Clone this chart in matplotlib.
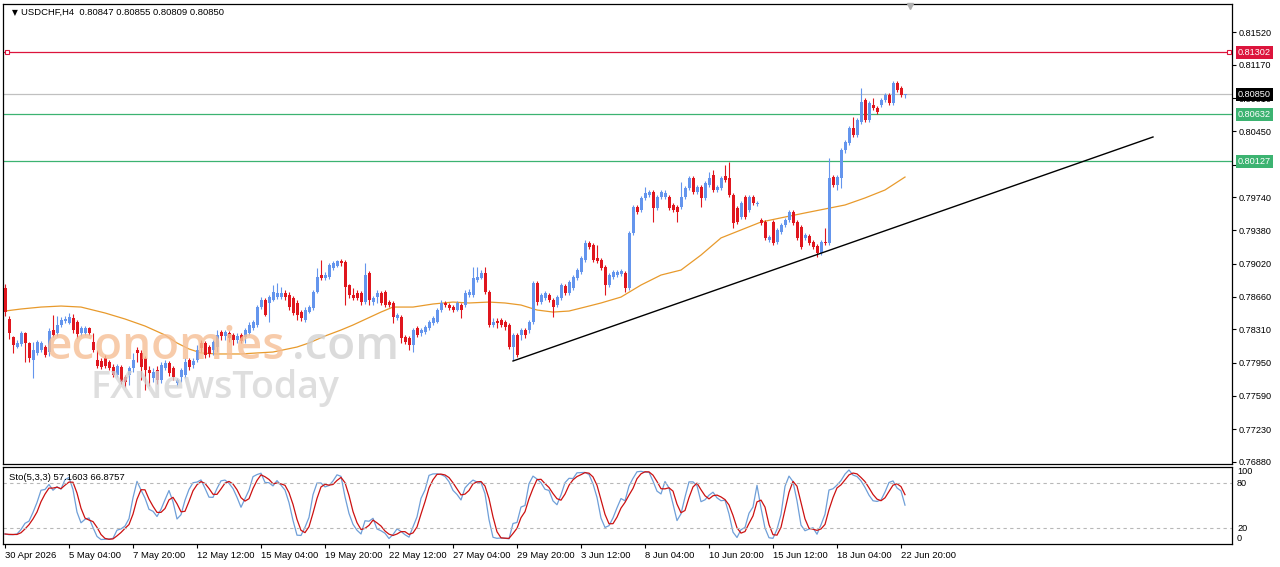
import numpy as np
import pandas as pd
import matplotlib
matplotlib.use('Agg')
import matplotlib.pyplot as plt
from matplotlib.transforms import blended_transform_factory

plt.rcParams['font.family'] = ['Liberation Sans', 'DejaVu Sans']

#### data (USDCHF H4)
header = 'USDCHF,H4  0.80847 0.80855 0.80809 0.80850'
sto_header = 'Sto(5,3,3) 57.1603 66.8757'

opens = [
    .78757, .78422, .78227, .78119, .78152, .78271, .78163, .77979, .78055, .78087,
    .78119, .78065, .78303, .78271, .78357, .78400, .78379, .78433, .78389, .78271,
    .78271, .78325, .78173, .77979, .77968, .78001, .77957, .77903, .77817, .77903,
    .77795, .77817, .77893, .78087, .78055, .78001, .77871, .77785, .77871, .77763,
    .77893, .77947, .77893, .77731, .77795, .77817, .77979, .77925, .77979, .78163,
    .78163, .78119, .78087, .78119, .78281, .78238, .78271, .78249, .78195, .78249,
    .78227, .78271, .78325, .78357, .78551, .78627, .78595, .78627, .78659, .78659,
    .78703, .78681, .78649, .78595, .78497, .78411, .78497, .78541, .78713, .78897,
    .78865, .78875, .78973, .78994, .79048, .79037, .78789, .78681, .78703, .78703,
    .78605, .78919, .78605, .78659, .78703, .78713, .78605, .78595, .78433, .78443,
    .78227, .78217, .78141, .78325, .78271, .78281, .78325, .78379, .78389, .78519,
    .78595, .78573, .78551, .78519, .78573, .78573, .78681, .78681, .78843, .78865,
    .78919, .78713, .78357, .78400, .78411, .78389, .78357, .78119, .78249, .78249,
    .78303, .78303, .78389, .78811, .78605, .78649, .78681, .78627, .78573, .78649,
    .78778, .78703, .78757, .78865, .78929, .79059, .79244, .79222, .79081, .79059,
    .78983, .78789, .78875, .78897, .78908, .78919, .78757, .79352, .79632, .79600,
    .79730, .79762, .79794, .79622, .79740, .79740, .79740, .79654, .79632, .79632,
    .79740, .79838, .79946, .79794, .79848, .79730, .79870, .79978, .79816, .79838,
    .79967, .79946, .79762, .79622, .79524, .79740, .79600, .79740, .79665, .79492,
    .79470, .79276, .79470, .79254, .79362, .79438, .79492, .79578, .79470, .79416,
    .79298, .79319, .79254, .79211, .79135, .79254, .79244, .79956, .79870, .79946,
    .80248, .80324, .80486, .80410, .80550, .80788, .80572, .80734, .80702, .80734,
    .80788, .80842, .80756, .80973, .80919, .80847,
]
highs = [
    .78800, .78454, .78238, .78195, .78292, .78281, .78173, .78173, .78195, .78184,
    .78141, .78325, .78465, .78454, .78443, .78454, .78487, .78476, .78411, .78346,
    .78346, .78335, .78271, .78087, .78001, .78033, .77979, .77936, .77936, .77925,
    .77817, .77914, .78055, .78119, .78087, .78022, .77914, .77893, .77914, .77957,
    .77979, .77968, .77914, .77785, .77893, .78001, .78001, .78001, .78141, .78195,
    .78184, .78141, .78195, .78303, .78303, .78303, .78292, .78271, .78271, .78271,
    .78325, .78389, .78411, .78573, .78659, .78649, .78681, .78789, .78811, .78767,
    .78735, .78713, .78670, .78627, .78519, .78551, .78573, .78735, .78973, .79059,
    .78929, .79027, .79048, .79059, .79070, .79059, .78800, .78757, .78735, .78724,
    .79027, .78940, .78670, .78735, .78724, .78735, .78627, .78616, .78487, .78465,
    .78249, .78238, .78325, .78346, .78325, .78357, .78411, .78454, .78541, .78627,
    .78616, .78595, .78573, .78616, .78595, .78735, .78746, .78983, .78983, .78951,
    .78983, .78735, .78433, .78433, .78433, .78411, .78379, .78271, .78271, .78325,
    .78325, .78411, .78832, .78832, .78703, .78724, .78703, .78649, .78681, .78811,
    .78800, .78843, .78897, .78973, .79102, .79276, .79265, .79244, .79222, .79081,
    .79005, .78919, .78951, .78951, .78962, .78940, .79373, .79654, .79654, .79751,
    .79848, .79816, .79816, .79762, .79816, .79816, .79762, .79676, .79654, .79902,
    .79859, .79967, .79967, .79870, .79870, .79913, .80010, .80032, .79870, .79967,
    .80086, .80118, .79784, .79643, .79697, .79762, .79762, .79762, .79697, .79514,
    .79492, .79330, .79492, .79406, .79460, .79514, .79600, .79600, .79492, .79438,
    .79352, .79341, .79276, .79233, .79276, .79406, .80162, .79978, .79978, .80270,
    .80356, .80507, .80604, .80594, .80919, .80810, .80777, .80810, .80723, .80810,
    .80864, .80864, .80994, .80994, .80940, .80855,
]
lows = [
    .78454, .78206, .78055, .78109, .78130, .77957, .77957, .77785, .78033, .78065,
    .78011, .78022, .78227, .78238, .78335, .78379, .78368, .78271, .78217, .78238,
    .78249, .78249, .78065, .77893, .77882, .77893, .77871, .77795, .77795, .77720,
    .77687, .77709, .77849, .77957, .77763, .77655, .77698, .77741, .77720, .77731,
    .77871, .77806, .77763, .77698, .77741, .77785, .77871, .77893, .77957, .78065,
    .78001, .78011, .78033, .78065, .78195, .78195, .78173, .78141, .78163, .78163,
    .78163, .78249, .78303, .78335, .78530, .78454, .78389, .78616, .78638, .78638,
    .78627, .78519, .78465, .78411, .78400, .78389, .78487, .78519, .78703, .78843,
    .78843, .78854, .78951, .78983, .78994, .78573, .78649, .78627, .78627, .78573,
    .78584, .78573, .78573, .78595, .78573, .78551, .78551, .78379, .78411, .78163,
    .78152, .78087, .78065, .78227, .78238, .78260, .78303, .78357, .78379, .78497,
    .78551, .78519, .78497, .78508, .78433, .78551, .78659, .78659, .78821, .78854,
    .78692, .78335, .78335, .78325, .78335, .78303, .78098, .77979, .78011, .78195,
    .78217, .78271, .78368, .78573, .78584, .78627, .78605, .78443, .78551, .78627,
    .78681, .78681, .78735, .78843, .78908, .79037, .79178, .79037, .79027, .78951,
    .78681, .78767, .78854, .78875, .78886, .78713, .78735, .79330, .79557, .79578,
    .79708, .79740, .79470, .79600, .79719, .79719, .79600, .79578, .79470, .79611,
    .79719, .79816, .79773, .79773, .79632, .79708, .79848, .79794, .79794, .79816,
    .79902, .79740, .79406, .79449, .79503, .79503, .79578, .79654, .79643, .79438,
    .79276, .79254, .79222, .79233, .79341, .79416, .79470, .79438, .79276, .79178,
    .79276, .79222, .79178, .79092, .79113, .79222, .79222, .79848, .79816, .79838,
    .80216, .80302, .80388, .80388, .80529, .80550, .80550, .80680, .80637, .80712,
    .80766, .80734, .80734, .80874, .80820, .80809,
]
closes = [
    .78497, .78271, .78141, .78163, .78271, .78163, .78001, .78087, .78173, .78163,
    .78033, .78292, .78249, .78357, .78411, .78422, .78443, .78303, .78260, .78325,
    .78325, .78271, .78087, .77914, .77903, .77914, .77893, .77817, .77914, .77741,
    .77741, .77893, .77979, .78055, .77903, .77871, .77839, .77849, .77763, .77925,
    .77947, .77839, .77795, .77763, .77871, .77957, .77903, .77968, .78087, .78109,
    .78033, .78044, .78173, .78249, .78238, .78281, .78217, .78195, .78238, .78184,
    .78303, .78357, .78389, .78551, .78627, .78465, .78659, .78713, .78703, .78703,
    .78659, .78551, .78487, .78465, .78433, .78519, .78551, .78713, .78875, .78865,
    .78897, .79005, .79027, .79048, .79027, .78767, .78681, .78649, .78649, .78605,
    .78897, .78627, .78649, .78703, .78595, .78573, .78573, .78443, .78465, .78217,
    .78173, .78141, .78303, .78249, .78303, .78335, .78389, .78433, .78519, .78595,
    .78573, .78541, .78519, .78595, .78519, .78703, .78713, .78865, .78875, .78919,
    .78713, .78357, .78389, .78379, .78357, .78335, .78119, .78249, .78033, .78303,
    .78249, .78389, .78811, .78605, .78681, .78703, .78627, .78551, .78659, .78789,
    .78703, .78821, .78875, .78951, .79081, .79244, .79200, .79059, .79048, .78973,
    .78789, .78897, .78929, .78929, .78940, .78757, .79352, .79632, .79578, .79730,
    .79784, .79794, .79622, .79740, .79794, .79784, .79622, .79600, .79578, .79740,
    .79838, .79946, .79794, .79848, .79730, .79892, .79946, .79816, .79848, .79946,
    .79924, .79762, .79460, .79470, .79676, .79524, .79740, .79676, .79676, .79460,
    .79298, .79308, .79244, .79384, .79438, .79492, .79578, .79460, .79298, .79200,
    .79330, .79244, .79200, .79135, .79254, .79244, .79946, .79870, .79956, .80248,
    .80334, .80486, .80410, .80572, .80766, .80572, .80756, .80702, .80658, .80788,
    .80842, .80756, .80973, .80896, .80842, .80850,
]

# moving average read at a few bars
ma_bars = [0, 4, 9, 14, 19, 22, 25, 30, 35, 40, 43, 46, 49, 53, 59, 63, 67, 73, 76, 80,
           84, 87, 94, 97, 102, 107, 112, 116, 121, 125, 129, 133, 137, 141, 145, 149, 154, 159, 164, 169,
           174, 179, 184, 189, 195, 200, 205, 210, 215, 220, 225]
ma_values = [.78508, .78530, .78551, .78562, .78551, .78519, .78487, .78422, .78346, .78249,
             .78163, .78098, .78055, .78044, .78044, .78055, .78065, .78119, .78163, .78238,
             .78303, .78357, .78497, .78551, .78551, .78584, .78605, .78595, .78605, .78595,
             .78573, .78519, .78497, .78508, .78551, .78595, .78659, .78789, .78897, .78951,
             .79113, .79298, .79384, .79470, .79524, .79568, .79611, .79654, .79730, .79816,
             .79956]

trend_bars = [127, 287]
trend_prices = [0.77968, 0.80389]

resist_level = 0.81302
support_levels = [0.80632, 0.80127]
last_price = 0.80850

price_ticks = [0.81520, 0.81170, 0.80810, 0.80450, 0.80090, 0.79740, 0.79380,
               0.79020, 0.78660, 0.78310, 0.77950, 0.77590, 0.77230, 0.76880]

sto_labels = ['100', '80', '20', '0']
sto_label_pos = [95.1, 79.5, 19.6, 7.0]

date_bars = [0, 16, 32, 48, 64, 80, 96, 112, 128, 144, 160, 176, 192, 208, 224]
date_labels = ['30 Apr 2026', '5 May 04:00', '7 May 20:00', '12 May 12:00', '15 May 04:00',
               '19 May 20:00', '22 May 12:00', '27 May 04:00', '29 May 20:00', '3 Jun 12:00',
               '8 Jun 04:00', '10 Jun 20:00', '15 Jun 12:00', '18 Jun 04:00', '22 Jun 20:00']

BULL = '#6495ed'
BEAR = '#e0161e'
CRIMSON = '#dc143c'
GREEN = '#3cb371'

W, H = 1280, 567
fig = plt.figure(figsize=(W / 100, H / 100), dpi=100)
fig.patch.set_facecolor('white')

def box(x0, y0, x1, y1):
    return [x0 / W, 1 - y1 / H, (x1 - x0) / W, (y1 - y0) / H]

ax = fig.add_axes(box(3, 4, 1232, 464))
ax2 = fig.add_axes(box(3, 467, 1232, 544), sharex=ax)

o = np.array(opens); hi = np.array(highs); lo = np.array(lows); c = np.array(closes)
x = np.arange(len(c))
up = c >= o
cols = np.where(up, BULL, BEAR)

ax.vlines(x, lo, hi, colors=cols, lw=0.8, zorder=3)
ax.bar(x, np.maximum(np.abs(c - o), 0.00004), bottom=np.minimum(o, c), width=0.75,
       color=cols, lw=0, zorder=3)

ax.plot(ma_bars, ma_values, color='#e89a2c', lw=0.9, zorder=2)
ax.plot(trend_bars, trend_prices, color='black', lw=1.0, zorder=4)

ax.axhline(resist_level, color=CRIMSON, lw=0.9, zorder=2)
ax.plot([0.5, 306.0], [resist_level] * 2, ls='none', marker='s', ms=3.5, mfc='white',
        mec=CRIMSON, mew=0.8, zorder=5, clip_on=False)
for lv in support_levels:
    ax.axhline(lv, color=GREEN, lw=0.9, zorder=2)
ax.axhline(last_price, color='#c0c0c0', lw=0.9, zorder=1)

ax.set_xlim(-0.5, 306.75)
ax.set_ylim(0.76855, 0.81826)
ax.yaxis.tick_right()
ax.set_yticks(price_ticks)
ax.set_yticklabels([f'{t:.5f}' for t in price_ticks])
ax.tick_params(axis='y', length=3, width=0.8, pad=2, labelsize=6.6)
ax.tick_params(axis='x', bottom=False, labelbottom=False)
for s in ax.spines.values():
    s.set_linewidth(0.9)

# price boxes sit on top of the scale, like the terminal does
trans = blended_transform_factory(ax.transAxes, ax.transData)
for val, col in [(resist_level, CRIMSON), (last_price, 'black'),
                 (support_levels[0], GREEN), (support_levels[1], GREEN)]:
    ax.annotate(f'{val:.5f}', xy=(1, val), xycoords=trans, xytext=(6, 0),
                textcoords='offset pixels', va='center', ha='left', fontsize=6.6,
                color='white', annotation_clip=False, zorder=10,
                bbox=dict(boxstyle='square,pad=0.2', fc=col, ec='none'))

ax.plot([226.25], [0.81800], marker='v', ms=5, color='#b0b0b0', clip_on=False, zorder=6)
ax.text(0.0075, 0.982, '\u25bc', transform=ax.transAxes, fontsize=5.5, va='center',
        family=['DejaVu Sans'])
ax.text(0.0145, 0.982, header, transform=ax.transAxes, fontsize=6.8, va='center')

#### stochastic (5,3,3)
hs = pd.Series(highs); ls_ = pd.Series(lows); cs = pd.Series(closes)
hh = hs.rolling(5, min_periods=1).max()
ll = ls_.rolling(5, min_periods=1).min()
num = (cs - ll).rolling(3, min_periods=1).sum()
den = (hh - ll).rolling(3, min_periods=1).sum()
sto_main = 100 * num / den
sto_signal = sto_main.rolling(3, min_periods=1).mean()

ax2.plot(x, sto_main, color='#6f9fd8', lw=0.9)
ax2.plot(x, sto_signal, color='#cc1111', lw=0.9)
for lv in [80, 20]:
    ax2.axhline(lv, color='#b8b8b8', lw=0.8, ls=(0, (3, 3)))
ax2.set_ylim(-0.9, 101.7)
ax2.set_yticks([])
ax2.set_xticks(date_bars)
ax2.set_xticklabels(date_labels, ha='left')
ax2.tick_params(axis='x', length=3, width=0.8, pad=2, labelsize=6.8)
for s in ax2.spines.values():
    s.set_linewidth(0.9)
trans2 = blended_transform_factory(ax2.transAxes, ax2.transData)
for lab, pos in zip(sto_labels, sto_label_pos):
    ax2.annotate(lab, xy=(1, pos), xycoords=trans2, xytext=(5, 0),
                 textcoords='offset pixels', fontsize=6.6, va='center', ha='left',
                 annotation_clip=False)
ax2.text(0.005, 0.86, sto_header, transform=ax2.transAxes, fontsize=6.8, va='center')

#### watermark
def fpx(xp, yp):
    return xp / W, 1 - yp / H

fig.text(*fpx(46, 359), 'economies', fontsize=33, color='#f6bf95', family='Open Sans',
         weight='semibold', alpha=0.8, zorder=5)
fig.text(*fpx(292, 359), '.com', fontsize=33, color='#d2d2d2', family='Open Sans',
         weight='semibold', alpha=0.8, zorder=5)
fig.text(*fpx(90, 398), 'FXNewsToday', fontsize=27, color='#d4d4d4', family='Open Sans',
         weight='semibold', alpha=0.75, zorder=5)

fig.savefig('out.png', dpi=100)
